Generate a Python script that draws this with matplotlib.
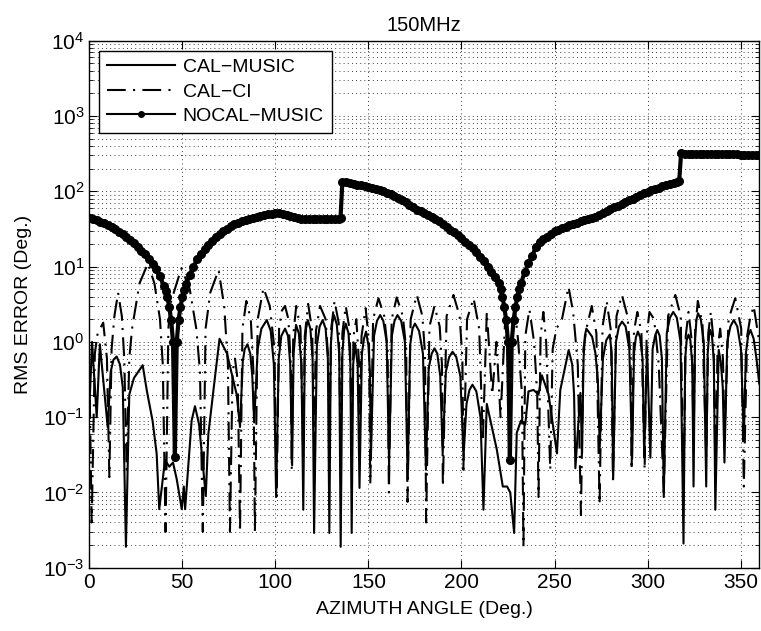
import matplotlib
matplotlib.use("Agg")
import matplotlib.pyplot as plt
from matplotlib.ticker import FixedLocator, NullFormatter, MultipleLocator

plt.rcParams['font.family'] = ['Liberation Sans', 'DejaVu Sans']
plt.rcParams['mathtext.default'] = 'regular'

y_major = [1e-3, 1e-2, 1e-1, 1e0, 1e1, 1e2, 1e3, 1e4]
y_minor = [m * d for d in y_major[:-1] for m in range(2, 10)]

# CAL-MUSIC (solid) - peaks, shoulders and nulls
cal_music_deg = [0, 1.5, 4, 5.7, 9.9, 11.5, 13, 14.7, 16.5, 18, 19.7, 21.5, 24, 28.7, 31,
                 34, 36.2, 37.6, 40.7, 43, 45, 47, 49.7, 50.8, 51.5, 53.2, 55, 56.8, 59,
                 62.6, 64, 67.6, 70, 74, 79.2, 81, 82.5, 83.5, 85, 86.5, 87.6, 88.6, 90.5,
                 92.5, 95.4, 97.5, 99.2, 100.4, 101.8, 103.2, 105.2, 106.8, 108, 109,
                 109.8, 111.1, 112.6, 114, 115, 115.8, 116.5, 117.4, 118.8, 120, 120.8,
                 122.3, 123.8, 125.4, 127, 128.2, 129, 129.8, 130.6, 131.5, 133, 134.3,
                 135.1, 136, 136.9, 137.8, 139.3, 140.3, 141, 141.8, 142.8, 144.2, 145.2,
                 146.5, 147.6, 148.7, 150, 150.8, 151.3, 153, 154.6, 156.3, 158, 159.8,
                 161.1, 162.6, 164, 165.6, 167.6, 169.6, 171.1, 172.4, 173.7, 175, 177.2,
                 179.3, 180.9, 182.4, 184, 185.5, 187, 188.6, 189.9, 191.6, 193.4, 195.2,
                 197.2, 199.4, 201.1, 202.7, 204.3, 205.9, 208, 210.2, 211.8, 213.6, 219,
                 222.2, 224.5, 226.2, 228.3, 229.7, 232, 234.3, 236, 238.7, 241.4, 243.2,
                 246.8, 251.3, 253.1, 257.6, 259.5, 260.5, 261.2, 263.9, 264.8, 265.6,
                 266.3, 267.1, 270.2, 272, 273.3, 274.3, 276, 277.8, 279.7, 280.7, 281.5,
                 283, 284.6, 286.3, 288.2, 290.2, 291.7, 292.7, 293.7, 294.8, 296, 297.3,
                 298.2, 299.7, 301.5, 302.7, 304, 305.2, 306.5, 307.7, 308.7, 310.3, 312,
                 313.8, 315.7, 317.7, 319.3, 320.2, 321, 322, 323, 324, 324.7, 325.5,
                 326.3, 327.1, 328.6, 330.2, 331.5, 332.3, 333, 333.7, 334.6, 335.6,
                 336.4, 338.2, 339.3, 340.4, 341.3, 342.8, 344.5, 346.3, 348.2, 350.2,
                 351.7, 352.8, 354, 355.3, 357, 358.5, 360]
cal_music_err = [0.12, 1.0, 0.1, 0.93, 0.074, 0.4, 0.58, 0.64, 0.5, 0.25, 0.0019, 0.2,
                 0.33, 0.49, 0.22, 0.09, 0.033, 0.006, 0.027, 0.022, 0.025, 0.015, 0.006,
                 0.012, 0.006, 0.022, 0.09, 0.14, 0.08, 0.009, 0.06, 0.35, 1.1, 0.7, 0.2,
                 0.074, 0.55, 0.8, 0.93, 0.7, 0.35, 0.085, 0.8, 1.5, 1.95, 1.4, 0.5,
                 0.0087, 0.6, 1.2, 1.5, 1.2, 0.5, 0.023, 0.7, 1.68, 1.3, 0.5, 0.0059, 0.8,
                 1.5, 1.95, 1.5, 0.6, 0.0029, 0.9, 1.6, 1.95, 1.5, 0.6, 0.0029, 0.9, 1.8,
                 2.27, 1.7, 0.7, 0.0019, 0.7, 1.4, 1.75, 1.3, 0.5, 0.0029, 0.5, 0.96, 0.5,
                 0.0115, 0.7, 1.1, 1.37, 0.9, 0.4, 0.027, 1.2, 1.9, 2.27, 1.9, 1.0, 0.023,
                 1.2, 1.9, 2.27, 1.9, 1.0, 0.015, 0.9, 1.5, 1.75, 1.4, 0.7, 0.02, 0.45,
                 0.7, 0.82, 0.7, 0.35, 0.033, 0.4, 0.63, 0.74, 0.63, 0.35, 0.03, 0.15,
                 0.23, 0.27, 0.22, 0.1, 0.0059, 0.15, 0.037, 0.012, 0.012, 0.01, 0.0029,
                 0.062, 0.09, 0.08, 0.22, 0.23, 0.2, 0.36, 0.2, 0.033, 0.23, 0.78, 0.5,
                 0.2, 0.021, 0.21, 0.033, 0.6, 1.2, 1.5, 1.17, 0.7, 0.3, 0.04, 0.6, 1.05,
                 1.25, 0.7, 0.015, 1.0, 1.6, 1.86, 1.6, 0.8, 0.028, 0.7, 1.15, 1.37, 1.15,
                 0.6, 0.029, 0.86, 0.029, 0.8, 1.2, 1.44, 1.2, 0.6, 0.0087, 1.3, 2.1, 2.5,
                 2.1, 1.0, 0.0021, 0.6, 1.05, 1.25, 1.05, 0.5, 0.012, 1.1, 2.0, 2.4, 2.0,
                 1.0, 0.012, 0.7, 1.2, 1.44, 1.2, 0.55, 0.0059, 0.78, 0.55, 0.25, 0.025,
                 1.0, 1.6, 1.95, 1.6, 0.8, 0.05, 0.7, 1.2, 1.44, 1.1, 0.6, 0.28]

# CAL-CI (dash-dot)
cal_ci_deg = [0, 1.3, 3, 4.5, 7.5, 9.5, 10.8, 12, 13.5, 15.5, 17.5, 18.8, 20.1, 21.5, 23,
              27, 31.5, 35, 38, 39.5, 41, 42.5, 44, 49.5, 54, 57.5, 59.5, 61, 62.5, 65,
              69.5, 72.5, 74.5, 75.6, 77, 78.3, 79.8, 81, 82.3, 84.4, 86.8, 88.2, 89,
              90.5, 93.6, 97, 99.5, 100.7, 102, 103.5, 105.2, 107, 108.3, 108.8, 109.6,
              111.2, 113.5, 115, 115.8, 117.6, 119.8, 120.8, 121.8, 124, 127, 128.4,
              129, 130, 131.8, 134, 135.1, 136, 137.8, 140, 141, 142, 143.5, 145, 145.5,
              146.3, 148.5, 150.3, 151, 152.5, 155.4, 158.5, 160.3, 161, 162.5, 165.2,
              168.5, 170.3, 171, 172.7, 176, 179, 180.4, 181, 182.8, 185.5, 188.3,
              189.5, 190, 192, 195.7, 199, 200.5, 201, 203, 206.5, 209.5, 211.5, 213.6,
              216.5, 218.8, 221, 223.5, 226, 228.5, 230.5, 232.5, 233.3, 234.3, 236.5,
              239, 240.7, 241.4, 242.5, 244, 245.5, 247.7, 249, 251, 254, 257.5, 260,
              262.5, 264.2, 265.5, 267.4, 270, 272.5, 274.2, 275.8, 278, 280.3, 281.4,
              283.3, 286.2, 289.2, 290.9, 291.4, 292.7, 294.5, 296.7, 298.4, 299.5,
              301, 303.5, 306, 308.7, 311, 314.9, 317.8, 319.3, 320.5, 322, 323.8,
              324.7, 325.6, 327, 329.5, 331.5, 332.6, 334, 335.5, 336.4, 337.6, 339,
              340.5, 341.3, 343.5, 347.1, 350.3, 351.7, 353.5, 355, 357, 360]
cal_ci_err = [0.5, 0.004, 0.7, 1.3, 1.8, 0.6, 0.016, 0.8, 2.2, 4.5, 2.2, 0.6, 0.02, 0.6,
              1.5, 6, 11, 6, 2, 0.5, 0.003, 1.5, 3.5, 9.5, 5, 1.5, 0.4, 0.003, 1.5, 4.5,
              9, 3, 0.5, 0.003, 0.4, 0.6, 0.3, 0.003, 1.5, 3.5, 2, 0.4, 0.003, 2, 5.2,
              3, 0.8, 0.009, 1.5, 2.6, 3, 2, 0.5, 0.02, 1.2, 3, 1.5, 0.03, 1.2, 3.2,
              1.4, 0.04, 1.4, 3, 2, 0.6, 0.05, 1.5, 3.5, 1.8, 0.04, 1.3, 3, 1.4, 0.05,
              1.2, 2, 0.5, 0.1, 1.2, 2.8, 1.0, 0.013, 2, 3.8, 2.2, 0.8, 0.01, 2, 3.9,
              2.2, 0.8, 0.0075, 2, 4.2, 2.2, 0.7, 0.004, 1.6, 3, 1.6, 0.5, 0.012, 2.2,
              4.2, 2.2, 0.6, 0.02, 2, 3.8, 1.5, 0.05, 2.5, 0.2, 1.0, 0.1, 2, 0.3, 3, 1,
              0.2, 0.0019, 1.2, 2.7, 1, 0.2, 0.0087, 1.2, 2.5, 1, 0.02, 0.8, 1.5, 2,
              5.4, 2.5, 0.5, 0.005, 0.8, 1.6, 3, 1.3, 0.007, 1.6, 3.5, 1.4, 0.015, 2.2,
              4.2, 2.2, 0.6, 0.02, 1.4, 2.5, 1.3, 0.02, 1.2, 2.5, 2, 0.5, 0.01, 2.2,
              4.2, 2.2, 0.01, 1.2, 2.5, 1.0, 0.05, 1.5, 3.5, 1.7, 0.03, 1.3, 2.5, 1.0,
              0.02, 0.8, 1.5, 0.6, 0.05, 2, 3.8, 1.5, 0.012, 1.2, 2, 3.0, 1.0]

# NOCAL-MUSIC (thick, dotted markers)
nocal_deg = [0, 2, 4, 6, 8, 10, 12, 14, 16, 18, 20, 22, 24, 26, 28, 30, 32, 34, 36, 38,
             40, 41, 42, 43, 44, 45, 46, 47, 48, 49, 50, 51, 52, 54, 56, 58, 60, 62, 64,
             66, 68, 70, 72, 74, 76, 78, 80, 82, 84, 86, 88, 90, 92, 94, 96, 98, 100,
             102, 104, 106, 108, 110, 112, 114, 116, 118, 120, 122, 124, 126, 128, 130,
             132, 134, 135, 136, 138, 140, 142, 144, 146, 148, 150, 152, 154, 156, 158,
             160, 162, 164, 166, 168, 170, 172, 174, 176, 178, 180, 182, 184, 186, 188,
             190, 192, 194, 196, 198, 200, 202, 204, 206, 208, 210, 212, 214, 216, 218,
             220, 221, 222, 223, 224, 225, 226, 227, 228, 229, 230, 231, 232, 234, 236,
             238, 240, 242, 244, 246, 248, 250, 252, 254, 256, 258, 260, 262, 264, 266,
             268, 270, 272, 274, 276, 278, 280, 282, 284, 286, 288, 290, 292, 294, 296,
             298, 300, 302, 304, 306, 308, 310, 312, 314, 316, 317, 318, 320, 322, 324,
             326, 328, 330, 332, 334, 336, 338, 340, 342, 344, 346, 348, 350, 352, 354,
             356, 358, 360]
nocal_err = [44, 42.5, 41, 39.5, 37.5, 35.5, 33.5, 31.5, 29, 27, 25, 22.5, 20.5, 18.4, 16,
             14.5, 12.5, 10.8, 9.2, 7.4, 5.6, 4.8, 3.9, 2.9, 1.95, 1.0, 0.03, 1.0, 1.95,
             2.9, 3.9, 4.9, 5.8, 7.8, 10, 12.5, 14.5, 17, 19.5, 22, 24.5, 27, 29.5, 32,
             34.5, 36.5, 38.5, 40, 41.5, 42.5, 44, 45.5, 47, 48.5, 49.5, 50.5, 51, 51, 50,
             48.5, 46.5, 45, 44, 43.5, 43, 43, 43, 43, 43, 43, 43, 43, 43, 43.5, 44, 134,
             131, 128, 125, 122, 120, 117, 114, 111, 108, 104, 100, 96, 91, 86, 81, 76,
             71, 66, 61, 57, 54, 51, 48.5, 46, 43, 40, 37, 34, 31, 28.5, 26, 24, 21.5,
             19.5, 17.5, 15.5, 13.5, 12, 10, 8.5, 7.3, 6.0, 5.0, 4.0, 2.9, 1.95, 1.0,
             0.027, 1.0, 1.95, 2.9, 4.0, 5.0, 6.0, 8.5, 11, 14, 18, 21, 23, 25, 27.5,
             29.5, 31, 32.5, 34, 35.5, 37, 38.5, 40, 41.5, 42.5, 44, 46, 48.5, 52, 55,
             58, 61, 64, 68, 72, 76, 80, 85, 89, 94, 98, 103, 107, 112, 116, 120, 124,
             128, 133, 138, 318, 317, 316, 316, 315, 315, 314, 314, 313, 312, 312, 311,
             311, 310, 310, 309, 308, 308, 307, 306, 306, 305]

fig = plt.figure(figsize=(7.61, 6.31), dpi=100)
ax = fig.add_axes([0.1173, 0.1002, 0.8804, 0.8353])

ax.semilogy(cal_music_deg, cal_music_err, color='black', linewidth=1.5,
            label='CAL\u2212MUSIC')
ax.semilogy(cal_ci_deg, cal_ci_err, color='black', linewidth=1.5,
            linestyle=(0, (9, 3.5, 1, 3.5)), label='CAL\u2212CI')
ax.semilogy(nocal_deg, nocal_err, color='black', linewidth=3, marker='o',
            markersize=5.5, label='NOCAL\u2212MUSIC')

ax.set_xlim(0, 360)
ax.set_ylim(1e-3, 1e4)
ax.xaxis.set_major_locator(MultipleLocator(50))
ax.yaxis.set_major_locator(FixedLocator(y_major))
ax.yaxis.set_minor_locator(FixedLocator(y_minor))
ax.yaxis.set_minor_formatter(NullFormatter())

ax.grid(True, which='major', color='black', linestyle=(0, (1, 4)), linewidth=0.6)
ax.grid(True, which='minor', axis='y', color='black', linestyle=(0, (1, 4)), linewidth=0.6)
ax.tick_params(which='both', direction='in', top=True, right=True, labelsize=15)
ax.tick_params(which='major', length=6)
ax.tick_params(which='minor', length=3)
for s in ax.spines.values():
    s.set_linewidth(1.0)

ax.set_title('150MHz', fontsize=14.5, pad=7)
ax.set_xlabel('AZIMUTH ANGLE (Deg.)', fontsize=14, labelpad=7)
ax.set_ylabel('RMS ERROR (Deg.)', fontsize=14, labelpad=8)

leg = ax.legend(loc='upper left', bbox_to_anchor=(0.0149, 0.981), borderaxespad=0,
                fontsize=14, handlelength=3.5, handletextpad=0.4, labelspacing=0.35,
                borderpad=0.4, fancybox=False, framealpha=1, edgecolor='black')
leg.get_frame().set_linewidth(1.0)
leg.legend_handles[2].set_markersize(4)
leg.legend_handles[2].set_linewidth(1.5)

fig.savefig('out.png', dpi=100)
